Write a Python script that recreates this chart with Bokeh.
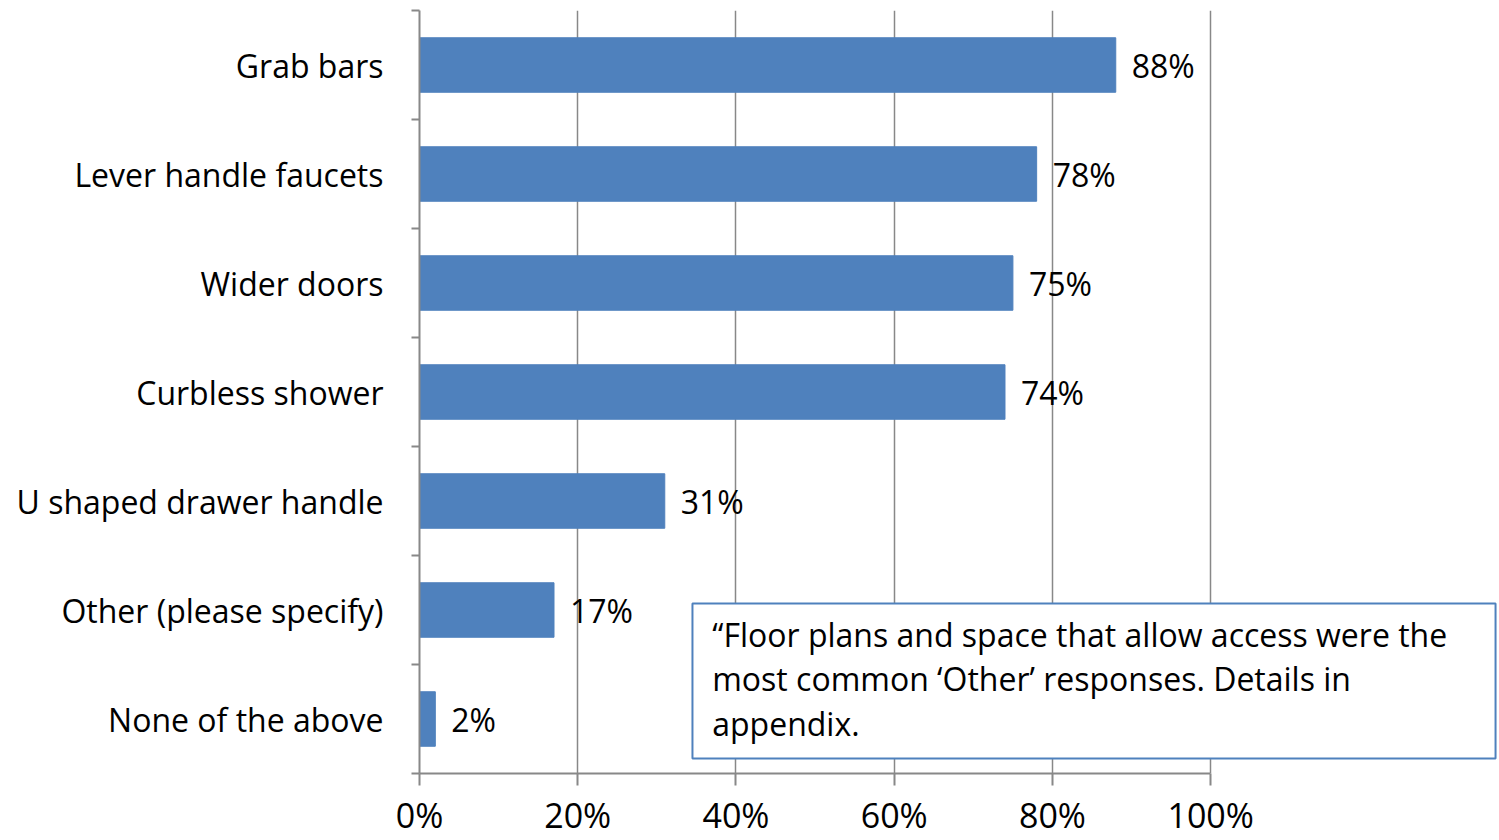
from bokeh.plotting import figure
from bokeh.models import ColumnDataSource, Range1d, FixedTicker, BoxAnnotation, Label
from bokeh.core.properties import value
from bokeh.embed import file_html
from bokeh.resources import INLINE

categories = ["Grab bars", "Lever handle faucets", "Wider doors", "Curbless shower",
              "U shaped drawer handle", "Other (please specify)", "None of the above"]
values = [88, 78, 75, 74, 31, 17, 2]
x_ticks = [0, 20, 40, 60, 80, 100]
x_tick_labels = ["0%", "20%", "40%", "60%", "80%", "100%"]
note_lines = ["\u201cFloor plans and space that allow access were the",
              "most common \u2018Other\u2019 responses. Details in",
              "appendix."]

FONT = "Open Sans"
BAR = "#4F81BD"
GRAY = "#888888"

n = len(categories)
ypos = [n - 0.5 - i for i in range(n)]
src = ColumnDataSource(dict(y=ypos, v=values, lbl=[f"{v}%" for v in values]))

p = figure(width=1499, height=840, x_range=Range1d(0, 136.5), y_range=Range1d(0, n),
           output_backend="svg", toolbar_location=None,
           min_border_left=419, min_border_right=0, min_border_top=10, min_border_bottom=67)
p.outline_line_color = None
p.background_fill_color = "white"

p.hbar(y="y", left=0, right="v", height=0.5, color=BAR, source=src)
p.text(x="v", y="y", text="lbl", source=src, x_offset=16, text_baseline="middle",
       text_font=value(FONT), text_font_size="32px", text_color="black")

# x axis
xa = p.xaxis[0]
xa.ticker = FixedTicker(ticks=x_ticks)
xa.bounds = (0, 100)
xa.major_label_overrides = {t: l for t, l in zip(x_ticks, x_tick_labels)}
xa.major_tick_in = 0
xa.major_tick_out = 12
xa.minor_tick_line_color = None
xa.axis_line_color = GRAY
xa.axis_line_width = 2
xa.major_tick_line_color = GRAY
xa.major_tick_line_width = 2
xa.major_label_text_font = FONT
xa.major_label_text_font_size = "34px"
xa.major_label_text_color = "black"
xa.major_label_standoff = 6

# y axis
ya = p.yaxis[0]
ya.ticker = FixedTicker(ticks=ypos, minor_ticks=list(range(n + 1)))
ya.major_label_overrides = {y: c for y, c in zip(ypos, categories)}
ya.major_tick_in = 0
ya.major_tick_out = 0
ya.major_tick_line_color = None
ya.minor_tick_in = 0
ya.minor_tick_out = 8
ya.minor_tick_line_color = GRAY
ya.minor_tick_line_width = 2
ya.axis_line_color = GRAY
ya.axis_line_width = 2
ya.major_label_text_font = FONT
ya.major_label_text_font_size = "32px"
ya.major_label_text_color = "black"
ya.major_label_standoff = 28

p.xgrid.ticker = FixedTicker(ticks=x_ticks[1:])
p.xgrid.grid_line_color = GRAY
p.xgrid.grid_line_width = 1.5
p.ygrid.grid_line_color = None

# annotation box
box = BoxAnnotation(left=34.5, right=136.0, bottom=0.138, top=1.56,
                    fill_color="white", fill_alpha=1.0,
                    line_color=BAR, line_alpha=1.0, line_width=2)
p.add_layout(box)
for txt, yy in zip(note_lines, [1.275, 0.871, 0.458]):
    p.add_layout(Label(x=37.0, y=yy, text=txt, text_font=FONT, text_font_size="32px",
                       text_color="black", text_baseline="alphabetic"))

open("out.html", "w").write(file_html(p, INLINE))
